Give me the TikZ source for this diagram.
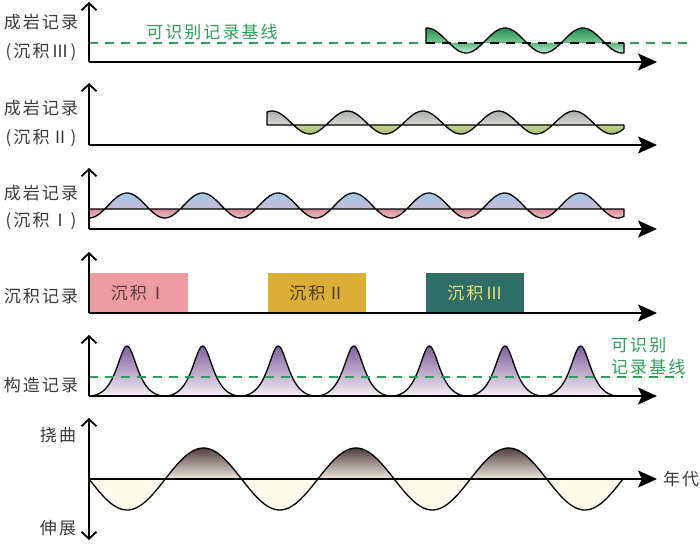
\documentclass[tikz,border=0pt]{standalone}
\usepackage{fontspec}
\newfontfamily\cjk[LetterSpace=12]{Noto Sans CJK SC}
\usetikzlibrary{arrows.meta}
\definecolor{lblc}{HTML}{3A3A3A}
\definecolor{dgreen}{HTML}{2E9E58}
\definecolor{gA}{HTML}{1F8A4A}\definecolor{gB}{HTML}{7CC896}
\definecolor{gC}{HTML}{5DB97F}\definecolor{gD}{HTML}{D2EDD9}
\definecolor{grA}{HTML}{A6A8A6}\definecolor{grB}{HTML}{D8DAD6}
\definecolor{olA}{HTML}{C2D393}\definecolor{olB}{HTML}{A5BC62}
\definecolor{blA}{HTML}{9CCCEE}\definecolor{blB}{HTML}{CBB8D4}
\definecolor{pkA}{HTML}{DC8C9A}\definecolor{pkB}{HTML}{F0C2C8}
\definecolor{puA}{HTML}{7D5C9C}\definecolor{puB}{HTML}{F5EFF6}
\definecolor{brA}{HTML}{4B3A3D}\definecolor{brB}{HTML}{F0E7DD}
\definecolor{cream}{HTML}{FEFBEA}
\definecolor{boxpink}{HTML}{EE9BA3}\definecolor{boxgold}{HTML}{DBAE35}\definecolor{boxteal}{HTML}{2F6E66}
\definecolor{txtA}{HTML}{5A3D3F}\definecolor{txtB}{HTML}{4A3A20}\definecolor{txtC}{HTML}{E6E26E}
\begin{document}
\begin{tikzpicture}[x=1pt,y=-1pt,
  axis/.style={line width=1.8pt, black},
  harrow/.style={axis, -{Stealth[length=19pt,width=17pt,inset=4pt]}},
  varrow/.style={axis, -{Straight Barb[length=7pt,width=15pt]}},
  wave/.style={line width=1.3pt, black, line join=round},
  baseline/.style={line width=1.8pt, dgreen, dash pattern=on 9pt off 7pt},
  lbl/.style={font=\cjk\fontsize{17}{20}\selectfont, text=lblc, inner sep=0pt},
  glbl/.style={lbl, text=dgreen},
  recbox/.style={minimum width=98pt, minimum height=40pt, inner sep=0pt, font=\cjk\fontsize{17}{20}\selectfont}
]
\useasboundingbox (0,0) rectangle (700,543);

% ---------- Panel 1 ----------
\begin{scope}
\clip (426,43) -- plot[domain=426:624,samples=120] (\x,{40.5-12.5*cos((\x-427)*4.61538)}) -- (624,43) -- cycle;
\shade[top color=gA, bottom color=gB] (426,27) rectangle (624,43);
\shade[top color=gC, bottom color=gD] (426,43) rectangle (624,54);
\end{scope}
\draw[wave] (426,43) -- plot[domain=426:624,samples=120] (\x,{40.5-12.5*cos((\x-427)*4.61538)}) -- (624,43);
\draw[baseline] (89,43) -- (426,43);
\draw[line width=1.3pt, black, dash pattern=on 9pt off 7pt] (426,43) -- (624,43);
\draw[baseline] (630,43) -- (687,43);
\coordinate (o1) at (89,62); \coordinate (y1) at (89,2); \coordinate (x1) at (657,62);
\draw[varrow] (o1) -- (y1);
\draw[harrow] (o1) -- (x1);
\node[lbl] (l1a) at (41,22) {成岩记录};
\node[lbl] (l1b) at (41,52) {(沉积Ⅲ)};
\node[glbl] (g1) at (212,32) {可识别记录基线};

% ---------- Panel 2 ----------
\begin{scope}
\clip (267,125) -- plot[domain=267:624,samples=160] (\x,{122.5-11.5*cos((\x-272)*4.76821)}) -- (624,125) -- cycle;
\shade[top color=grA, bottom color=grB] (267,110) rectangle (624,125);
\shade[top color=olA, bottom color=olB] (267,125) rectangle (624,135);
\end{scope}
\draw[wave] (267,125) -- plot[domain=267:624,samples=160] (\x,{122.5-11.5*cos((\x-272)*4.76821)}) -- (624,125) -- cycle;
\coordinate (o2) at (89,145); \coordinate (y2) at (89,83); \coordinate (x2) at (657,145);
\draw[varrow] (o2) -- (y2);
\draw[harrow] (o2) -- (x2);
\node[lbl] (l2a) at (41,108) {成岩记录};
\node[lbl] (l2b) at (41,138) {(沉积Ⅱ)};

% ---------- Panel 3 ----------
\begin{scope}
\clip (89,209) -- plot[domain=89:624,samples=220] (\x,{205.5-12.5*cos((\x-127)*4.76821)}) -- (624,209) -- cycle;
\shade[top color=blA, bottom color=blB] (89,192) rectangle (624,209);
\shade[top color=pkA, bottom color=pkB] (89,209) rectangle (624,219);
\end{scope}
\draw[wave] (89,209) -- plot[domain=89:624,samples=220] (\x,{205.5-12.5*cos((\x-127)*4.76821)}) -- (624,209) -- cycle;
\coordinate (o3) at (89,229); \coordinate (y3) at (89,168); \coordinate (x3) at (657,229);
\draw[varrow] (o3) -- (y3);
\draw[harrow] (o3) -- (x3);
\node[lbl] (l3a) at (41,193) {成岩记录};
\node[lbl] (l3b) at (41,221) {(沉积Ⅰ)};

% ---------- Panel 4 ----------
\node[recbox, fill=boxpink, text=txtA, minimum width=99pt] (s1) at (138.5,293) {沉积Ⅰ};
\node[recbox, fill=boxgold, text=txtB] (s2) at (317,293) {沉积Ⅱ};
\node[recbox, fill=boxteal, text=txtC] (s3) at (475,293) {沉积Ⅲ};
\coordinate (o4) at (89,313); \coordinate (y4) at (89,252); \coordinate (x4) at (657,313);
\draw[varrow] (o4) -- (y4);
\draw[harrow] (o4) -- (x4);
\node[lbl] (l4) at (41,296) {沉积记录};

% ---------- Panel 5 ----------
\begin{scope}
\clip plot[domain=89:622,samples=400] (\x,{396-50*((1/(1+(sin((\x-127)*2.38095)/0.6)^2)-0.2647)/0.7353)}) -- (622,396) -- (89,396) -- cycle;
\shade[top color=puA, bottom color=puB] (89,345) rectangle (622,396);
\end{scope}
\draw[wave] plot[domain=89:622,samples=400] (\x,{396-50*((1/(1+(sin((\x-127)*2.38095)/0.6)^2)-0.2647)/0.7353)});
\draw[baseline] (89,377) -- (683,377);
\coordinate (o5) at (89,396); \coordinate (y5) at (89,335); \coordinate (x5) at (657,396);
\draw[varrow] (o5) -- (y5);
\draw[harrow] (o5) -- (x5);
\node[lbl] (l5) at (41,385) {构造记录};
\node[glbl, anchor=west] (g5a) at (611,345) {可识别};
\node[glbl, anchor=west] (g5b) at (611,367) {记录基线};

% ---------- Panel 6 ----------
\begin{scope}
\clip (89,479) -- plot[domain=89:623,samples=200] (\x,{479+31*sin((\x-89)*2.35957)}) -- cycle;
\shade[top color=brA, bottom color=brB] (89,447) rectangle (623,479);
\fill[cream] (89,479) rectangle (623,511);
\end{scope}
\draw[wave] plot[domain=89:623,samples=200] (\x,{479+31*sin((\x-89)*2.35957)});
\coordinate (o6) at (89,479); \coordinate (y6t) at (89,418); \coordinate (y6b) at (89,540); \coordinate (x6) at (657,479);
\draw[axis, {Straight Barb[length=7pt,width=15pt]}-{Straight Barb[length=7pt,width=15pt]}] (y6b) -- (y6t);
\draw[harrow] (o6) -- (x6);
\node[lbl] (l6a) at (58,435) {挠曲};
\node[lbl] (l6b) at (58,528) {伸展};
\node[lbl, anchor=west] (l6c) at (663,479) {年代};
\end{tikzpicture}
\end{document}
